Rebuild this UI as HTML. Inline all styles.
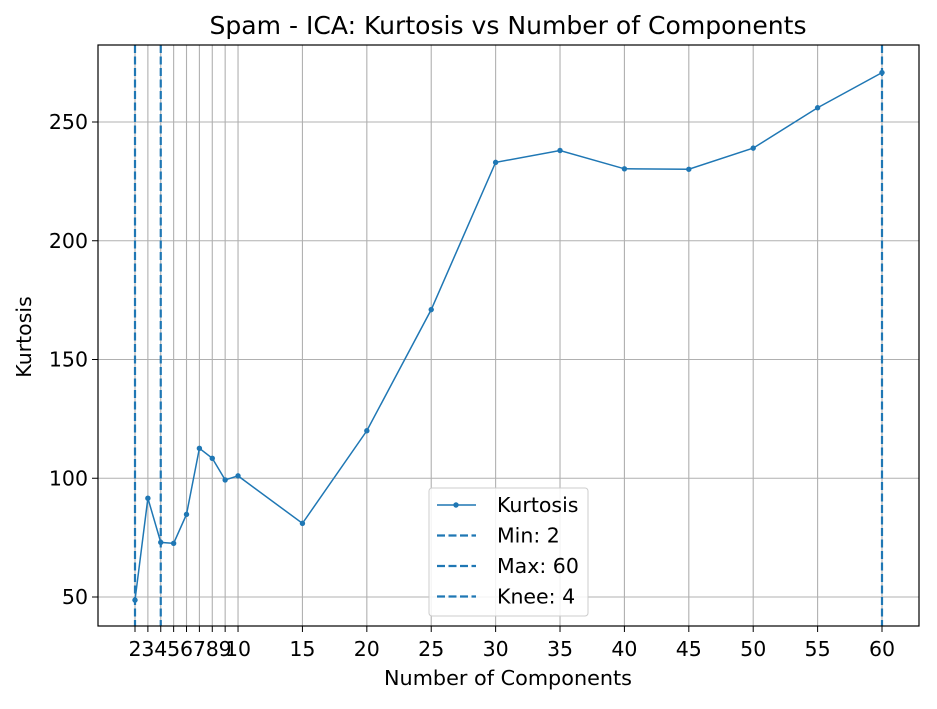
<!DOCTYPE html>
<html><head><meta charset="utf-8"><style>
body{margin:0;background:#fff;font-family:"Liberation Sans","DejaVu Sans",sans-serif}
svg text{font-family:"DejaVu Sans","Liberation Sans",sans-serif}
</style></head><body>
<svg id="chart" width="937" height="704" xmlns="http://www.w3.org/2000/svg">
<rect width="937" height="704" fill="#fff"/>
<g id="grid"></g><g id="vlines"></g><g id="series"></g><g id="axes"></g>
<text x="508" y="34" font-size="25" text-anchor="middle" textLength="597" lengthAdjust="spacingAndGlyphs">Spam - ICA: Kurtosis vs Number of Components</text>
<text x="508" y="685" font-size="20.5" text-anchor="middle" textLength="248" lengthAdjust="spacingAndGlyphs">Number of Components</text>
<text x="31" y="337" font-size="20.5" text-anchor="middle" transform="rotate(-90 31 337)">Kurtosis</text>
<g id="legend"></g>
</svg>
<script>
const components=[2,3,4,5,6,7,8,9,10,15,20,25,30,35,40,45,50,55,60];
const kurtosis=[48.7,91.6,73,72.6,84.8,112.6,108.4,99.3,101,81,120,171,233,238,230.3,230.1,239,256,270.8];
const xTicks=[2,3,4,5,6,7,8,9,10,15,20,25,30,35,40,45,50,55,60];
const yTicks=[50,100,150,200,250];
const markers=[{label:"Min: 2",v:2},{label:"Max: 60",v:60},{label:"Knee: 4",v:4}];
const L=98,R=919,T=45,B=626;
const X=v=>135+(v-2)*(882-135)/58;
const Y=v=>597-(v-50)*2.375;
const NS="http://www.w3.org/2000/svg";
function mk(p,tag,a){const e=document.createElementNS(NS,tag);for(const k in a)e.setAttribute(k,a[k]);p.appendChild(e);return e;}
const g=document.getElementById('grid'),ax=document.getElementById('axes');
xTicks.forEach(t=>{
 const l=mk(g,'line',{x1:X(t),x2:X(t),y1:T,y2:B,stroke:'#b0b0b0','stroke-width':1.1});
 
 
 mk(ax,'line',{x1:X(t),x2:X(t),y1:B,y2:B+6,stroke:'#000'});
 const tx=mk(ax,'text',{x:X(t),y:B+30,'font-size':20.5,'text-anchor':'middle'});tx.textContent=t;
 
 
});
yTicks.forEach(t=>{
 const l=mk(g,'line',{x1:L,x2:R,y1:Y(t),y2:Y(t),stroke:'#b0b0b0','stroke-width':1.1});
 
 
 mk(ax,'line',{x1:L-6,x2:L,y1:Y(t),y2:Y(t),stroke:'#000'});
 const tx=mk(ax,'text',{x:L-10,y:Y(t)+7,'font-size':20.5,'text-anchor':'end'});tx.textContent=t;
 
 
});
const fr=mk(ax,'rect',{x:L,y:T,width:R-L,height:B-T,fill:'none',stroke:'#000','stroke-width':1.2});


const vl=document.getElementById('vlines');
markers.forEach(m=>{
 const l=mk(vl,'line',{x1:X(m.v),x2:X(m.v),y1:T,y2:B,stroke:'#1f77b4','stroke-width':2.2,'stroke-dasharray':'8,3.5'});
 
 
});
const s=document.getElementById('series');
const pl=mk(s,'polyline',{points:components.map((c,i)=>X(c)+','+Y(kurtosis[i])).join(' '),fill:'none',stroke:'#1f77b4','stroke-width':1.5});


components.forEach((c,i)=>{
 const p=mk(s,'circle',{cx:X(c),cy:Y(kurtosis[i]),r:2.7,fill:'#1f77b4'});
 
 
});
const lg=document.getElementById('legend');
mk(lg,'rect',{x:429,y:488,width:159,height:128,rx:3,fill:'#fff','fill-opacity':0.85,stroke:'#ccc'});
const items=[{label:'Kurtosis',dash:false}].concat(markers.map(m=>({label:m.label,dash:true})));
items.forEach((it,i)=>{
 const y=505+i*30.5;
 const a={x1:437,x2:476,y1:y,y2:y,stroke:'#1f77b4','stroke-width':it.dash?2.2:1.5};
 if(it.dash)a['stroke-dasharray']='8,3.5';
 mk(lg,'line',a);
 if(!it.dash)mk(lg,'circle',{cx:456,cy:y,r:2.7,fill:'#1f77b4'});
 const tx=mk(lg,'text',{x:497,y:y+7,'font-size':20.5});tx.textContent=it.label;
 
 
});
</script>
</body></html>
